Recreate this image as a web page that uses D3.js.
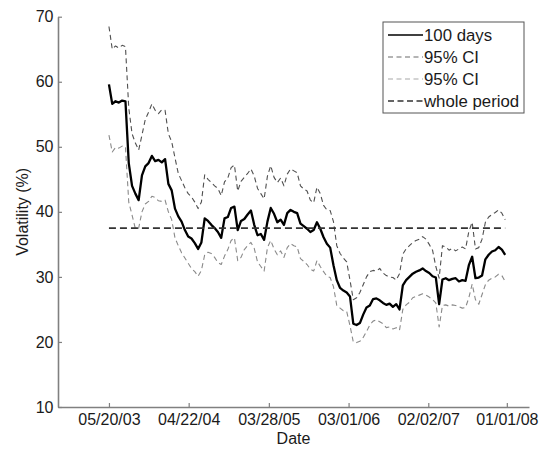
<!DOCTYPE html>
<html>
<head>
<meta charset="utf-8">
<script src="https://cdn.jsdelivr.net/npm/d3@7"></script>
<style>
  html, body { margin: 0; padding: 0; background: #fff; }
  svg { display: block; font-family: "Liberation Sans", Arial, Helvetica, sans-serif; }
</style>
</head>
<body>
<svg id="chart" width="541" height="450"></svg>
<script>
// Rolling 100-day volatility with its 95% confidence band, sampled every two weeks
const startDate = "2003-05-20";
const stepDays = 14;

const vol100 = [
  59.6, 56.6, 57.0, 56.8, 57.1, 57.0, 47.5, 44.0, 42.8, 41.8,
  45.6, 47.0, 47.5, 48.6, 47.8, 48.0, 47.6, 48.1, 44.3, 43.3,
  40.5, 39.3, 38.5, 37.2, 36.2, 35.9, 35.2, 34.3, 35.3, 39.0,
  38.6, 38.0, 37.5, 36.9, 36.0, 39.0, 39.2, 40.6, 40.8, 37.2,
  38.6, 38.9, 39.6, 40.2, 38.0, 36.4, 36.6, 35.7, 38.5, 40.6,
  39.7, 38.4, 38.8, 38.0, 39.8, 40.3, 40.0, 39.8, 38.2, 37.8,
  37.4, 36.9, 37.2, 38.4, 37.4, 36.1, 35.1, 34.5, 31.8, 29.5,
  28.3, 27.9, 27.6, 27.0, 22.8, 22.6, 22.9, 24.2, 25.3, 25.6,
  26.6, 26.7, 26.4, 26.0, 25.7, 25.9, 25.4, 25.8, 25.0, 28.7,
  29.5, 30.0, 30.5, 30.8, 31.0, 31.3, 30.9, 30.6, 30.1, 29.9,
  25.8, 29.6, 29.8, 29.5, 29.7, 29.8, 29.3, 29.5, 29.4, 31.8,
  33.1, 29.8, 29.9, 30.2, 32.7, 33.4, 33.9, 34.1, 34.6, 34.2,
  33.4
];

const ciUpper = [
  68.5, 65.0, 65.5, 65.2, 65.6, 65.4, 56.0, 52.0, 50.6, 49.5,
  51.8, 54.2, 55.3, 56.6, 55.6, 55.1, 55.7, 55.6, 52.0, 50.8,
  48.3, 45.9, 44.8, 43.7, 42.8, 42.3, 41.5, 40.5, 41.5, 45.7,
  45.0, 44.5, 44.0, 43.6, 42.5, 44.6, 45.2, 46.8, 47.2, 43.2,
  44.7, 45.3, 45.9, 46.6, 45.5, 43.6, 42.8, 42.0, 45.5, 47.1,
  45.3, 44.5, 45.2, 44.0, 45.8, 46.6, 46.3, 46.0, 44.0, 43.5,
  43.2, 41.8, 41.4, 43.8, 42.8, 41.0, 40.3, 40.2, 38.5, 34.8,
  33.6, 32.9, 32.3, 29.5, 26.5, 26.8, 27.6, 28.8, 30.0, 30.8,
  31.0, 30.9, 31.3, 30.6, 30.2, 30.0, 29.9, 29.5, 30.5, 33.5,
  34.3, 34.8, 35.3, 35.6, 35.8, 36.2, 35.8, 35.0, 34.1, 31.6,
  29.8, 34.8, 34.6, 34.1, 34.4, 34.0, 34.3, 34.6, 34.3, 37.0,
  38.4, 34.3, 34.5, 35.8, 38.4, 39.2, 39.6, 39.9, 40.3, 39.8,
  38.8
];

const ciLower = [
  51.8, 49.2, 49.9, 49.8, 50.1, 50.0, 41.5, 39.5, 37.4, 37.5,
  40.0, 41.2, 41.6, 42.4, 42.2, 41.7, 41.6, 41.8, 40.0, 38.8,
  36.0, 34.8, 33.7, 32.9, 32.1, 31.3, 30.8, 30.1, 31.0, 33.4,
  33.8, 33.6, 33.0, 32.2, 31.9, 33.2, 34.2, 35.6, 36.0, 32.5,
  33.0, 34.2, 34.8, 35.3, 34.4, 32.3, 31.6, 30.9, 34.5, 35.6,
  34.3, 33.4, 34.0, 33.0, 34.5, 35.1, 34.8, 34.6, 32.8, 32.4,
  31.9, 31.2, 30.9, 32.5, 31.6, 30.8, 30.1, 29.9, 28.5, 25.6,
  25.2, 24.8, 24.7, 22.5, 20.0, 19.9, 20.1, 20.7, 21.6, 22.6,
  23.2, 23.4, 23.1, 22.8, 22.2, 22.3, 22.0, 22.2, 21.8, 25.0,
  25.7, 26.1, 26.8, 27.0, 27.2, 27.4, 27.2, 26.9, 26.5, 26.0,
  22.3, 25.6, 25.7, 25.5, 25.7, 25.6, 25.4, 25.2, 25.3, 26.8,
  28.9, 26.5, 25.8, 27.3, 28.8, 29.5, 29.8, 30.0, 30.4, 30.2,
  29.3
];

// Volatility over the whole sample
const wholePeriod = 37.5;

const xTickDates = ["2003-05-20", "2004-04-22", "2005-03-28", "2006-03-01", "2007-02-02", "2008-01-01"];
const yTickValues = [10, 20, 30, 40, 50, 60, 70];
const legendLabels = ["100 days", "95% CI", "95% CI", "whole period"];

// ---- layout ----
const svg = d3.select("#chart");
const margin = { left: 58, right: 12, top: 16.7, bottom: 43 };
const W = 541, H = 450;

const parse = d3.utcParse("%Y-%m-%d");
const t0 = parse(startDate);
const dates = vol100.map((_, i) => d3.utcDay.offset(t0, i * stepDays));

const x = d3.scaleUtc()
  .domain([parse("2002-10-16"), parse("2008-04-04")])
  .range([margin.left, W - margin.right]);
const y = d3.scaleLinear()
  .domain([10, 70])
  .range([H - margin.bottom, margin.top]);

const axisColor = "#808080";
const textColor = "#1a1a1a";

// ---- series ----
const line = d3.line()
  .x((d, i) => x(dates[i]))
  .y(d => y(d));

const series = [
  { values: ciUpper, color: "#505050", width: 1.1, dash: "5,3.5" },
  { values: ciLower, color: "#8a8a8a", width: 1.1, dash: "5,3.5" },
  { values: vol100, color: "#000000", width: 2.3, dash: null }
];

const plot = svg.append("g");
series.forEach(s => {
  plot.append("path")
    .datum(s.values)
    .attr("fill", "none")
    .attr("stroke", s.color)
    .attr("stroke-width", s.width)
    .attr("stroke-dasharray", s.dash)
    .attr("stroke-linejoin", "round")
    .attr("d", line);
});

plot.append("line")
  .attr("x1", x(dates[0]))
  .attr("x2", x(dates[dates.length - 1]))
  .attr("y1", y(wholePeriod))
  .attr("y2", y(wholePeriod))
  .attr("stroke", "#333")
  .attr("stroke-width", 1.6)
  .attr("stroke-dasharray", "7,4");

// ---- axes ----
const xAxis = d3.axisBottom(x)
  .tickValues(xTickDates.map(parse))
  .tickFormat(d3.utcFormat("%m/%d/%y"))
  .tickSize(-4)
  .tickSizeOuter(0)
  .tickPadding(6.5);

const yAxis = d3.axisLeft(y)
  .tickValues(yTickValues)
  .tickSize(-4)
  .tickSizeOuter(0)
  .tickPadding(4.5);

function styleAxis(g) {
  g.select(".domain").attr("stroke", axisColor).attr("stroke-width", 1.6);
  g.selectAll(".tick line").attr("stroke", axisColor).attr("stroke-width", 1.2);
  g.selectAll(".tick text")
    .attr("fill", textColor)
    .style("font-size", "16px")
    .style("font-family", "'Liberation Sans', Arial, sans-serif");
}

svg.append("g")
  .attr("transform", `translate(0,${H - margin.bottom})`)
  .call(xAxis)
  .call(styleAxis);

svg.append("g")
  .attr("transform", `translate(${margin.left},0)`)
  .call(yAxis)
  .call(styleAxis);

// axis titles
svg.append("text")
  .attr("x", (margin.left + W - margin.right) / 2)
  .attr("y", 444)
  .attr("text-anchor", "middle")
  .attr("fill", textColor)
  .style("font-size", "16px")
  .text("Date");

svg.append("text")
  .attr("transform", `translate(28,${(margin.top + H - margin.bottom) / 2}) rotate(-90)`)
  .attr("text-anchor", "middle")
  .attr("fill", textColor)
  .style("font-size", "16px")
  .text("Volatility (%)");

// ---- legend ----
const legendStyles = [
  { color: "#000", width: 1.6, dash: null },
  { color: "#6a6a6a", width: 1.2, dash: "5,3.5" },
  { color: "#a8a8a8", width: 1.2, dash: "5,3.5" },
  { color: "#333", width: 1.6, dash: "6,3.5" }
];

const legend = svg.append("g").attr("transform", "translate(383,22)");
legend.append("rect")
  .attr("width", 141)
  .attr("height", 91)
  .attr("fill", "#fff")
  .attr("stroke", "#555")
  .attr("stroke-width", 1);

legendLabels.forEach((label, i) => {
  const cy = 13 + i * 22;
  const st = legendStyles[i];
  legend.append("line")
    .attr("x1", 5).attr("x2", 40)
    .attr("y1", cy).attr("y2", cy)
    .attr("stroke", st.color)
    .attr("stroke-width", st.width)
    .attr("stroke-dasharray", st.dash);
  legend.append("text")
    .attr("x", 41)
    .attr("y", cy)
    .attr("dy", "0.35em")
    .attr("fill", textColor)
    .style("font-size", "16.8px")
    .text(label);
});
</script>
</body>
</html>
